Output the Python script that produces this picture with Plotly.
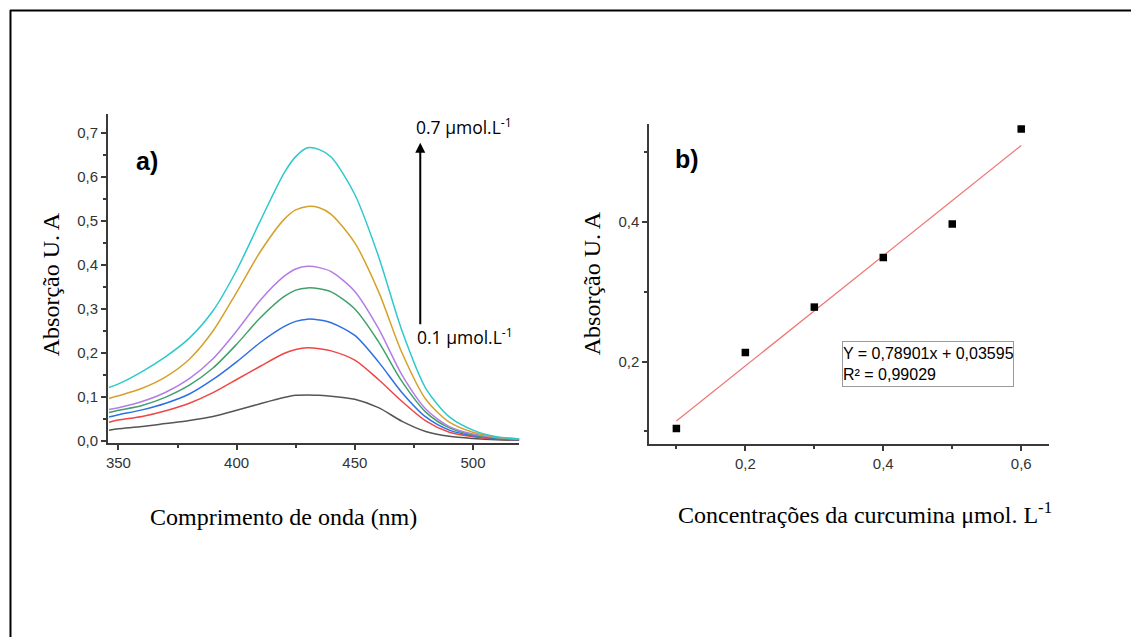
import plotly.graph_objects as go

W, H = 1131, 643

# ---------------- data: panel a) spectra ----------------
wavelength = [346, 350, 360, 370, 380, 390, 400, 410, 420, 425, 430, 435, 440, 450, 460, 470, 480, 490, 500, 510, 520]
abs_01 = [0.025, 0.028, 0.033, 0.040, 0.047, 0.056, 0.070, 0.085, 0.099, 0.104, 0.105, 0.104, 0.102, 0.095, 0.076, 0.045, 0.022, 0.011, 0.006, 0.003, 0.002]
abs_02 = [0.043, 0.048, 0.056, 0.069, 0.086, 0.110, 0.140, 0.170, 0.199, 0.208, 0.212, 0.210, 0.205, 0.184, 0.140, 0.090, 0.046, 0.020, 0.010, 0.005, 0.003]
abs_03 = [0.055, 0.060, 0.071, 0.086, 0.107, 0.140, 0.180, 0.224, 0.260, 0.272, 0.277, 0.275, 0.269, 0.240, 0.180, 0.110, 0.055, 0.025, 0.012, 0.006, 0.003]
abs_04 = [0.065, 0.070, 0.081, 0.100, 0.127, 0.166, 0.220, 0.280, 0.328, 0.343, 0.348, 0.346, 0.339, 0.300, 0.226, 0.135, 0.066, 0.030, 0.014, 0.007, 0.004]
abs_05 = [0.072, 0.076, 0.090, 0.111, 0.142, 0.187, 0.250, 0.320, 0.374, 0.391, 0.397, 0.394, 0.385, 0.340, 0.256, 0.150, 0.073, 0.033, 0.016, 0.008, 0.004]
abs_06 = [0.097, 0.103, 0.120, 0.146, 0.186, 0.250, 0.338, 0.430, 0.503, 0.525, 0.533, 0.530, 0.515, 0.450, 0.340, 0.200, 0.095, 0.043, 0.020, 0.009, 0.005]
abs_07 = [0.122, 0.130, 0.158, 0.192, 0.234, 0.296, 0.388, 0.500, 0.608, 0.646, 0.666, 0.662, 0.645, 0.560, 0.420, 0.250, 0.120, 0.055, 0.025, 0.010, 0.005]
spectra = [abs_01, abs_02, abs_03, abs_04, abs_05, abs_06, abs_07]
spec_colors = ["#555555", "#f04646", "#2f6fe6", "#3fa26a", "#b27ee6", "#d4a22a", "#2ec9cc"]

# ---------------- data: panel b) calibration ----------------
conc = [0.1, 0.2, 0.3, 0.4, 0.5, 0.6]
absorb = [0.104, 0.213, 0.278, 0.349, 0.397, 0.533]
slope, intercept = 0.78901, 0.03595
fit_x = [0.1, 0.6]
fit_y = [slope * x + intercept for x in fit_x]

fig = go.Figure()

for ys, c in zip(spectra, spec_colors):
    fig.add_trace(go.Scatter(x=wavelength, y=ys, mode="lines",
                             line=dict(color=c, width=1.5, shape="spline", smoothing=0.8),
                             xaxis="x", yaxis="y", showlegend=False, hoverinfo="skip"))

fig.add_trace(go.Scatter(x=fit_x, y=fit_y, mode="lines",
                         line=dict(color="#f07474", width=1.2),
                         xaxis="x2", yaxis="y2", showlegend=False))
fig.add_trace(go.Scatter(x=conc, y=absorb, mode="markers",
                         marker=dict(symbol="square", size=7.5, color="black"),
                         xaxis="x2", yaxis="y2", showlegend=False))

def px_x(p):
    return p / W

def px_y(p):
    return 1 - p / H

tickfont = dict(family="Liberation Sans, Arial", size=15, color="#333333")
axis_common = dict(showline=True, linecolor="#3a3a3a", linewidth=1.5, ticks="outside",
                   ticklen=5, tickwidth=1.5, tickcolor="#3a3a3a", showgrid=False,
                   zeroline=False, tickfont=tickfont)

fig.update_layout(
    width=W, height=H, margin=dict(l=0, r=0, t=0, b=0),
    paper_bgcolor="white", plot_bgcolor="white", separators=",.",
    xaxis=dict(domain=[px_x(106), px_x(518)], range=[345.5, 519.5], anchor="y",
               tickvals=[350, 400, 450, 500], ticktext=["350", "400", "450", "500"],
               minor=dict(tickvals=[375, 425, 475], ticks="outside", ticklen=3, tickcolor="#3a3a3a"),
               **axis_common),
    yaxis=dict(domain=[px_y(447.3), px_y(115)], range=[-0.0045, 0.743], anchor="x",
               tickvals=[0, 0.1, 0.2, 0.3, 0.4, 0.5, 0.6, 0.7], tickformat=".1f",
               minor=dict(dtick=0.05, tick0=0.05, ticks="outside", ticklen=3, tickcolor="#3a3a3a"),
               **axis_common),
    xaxis2=dict(domain=[px_x(648.3), px_x(1049)], range=[0.0605, 0.6405], anchor="y2",
                tickvals=[0.2, 0.4, 0.6], tickformat=".1f",
                minor=dict(tickvals=[0.1, 0.3, 0.5], ticks="outside", ticklen=3, tickcolor="#3a3a3a"),
                **axis_common),
    yaxis2=dict(domain=[px_y(448.3), px_y(125)], range=[0.0818, 0.5404], anchor="x2",
                tickvals=[0.2, 0.4], tickformat=".1f",
                minor=dict(tickvals=[0.1, 0.3, 0.5], ticks="outside", ticklen=3, tickcolor="#3a3a3a"),
                **axis_common),
)

serif = dict(family="Liberation Serif, Times New Roman", size=24, color="black")
anns = [
    dict(x=px_x(49), y=px_y(287), text="Absorção U. A", textangle=-90, font=serif),
    dict(x=px_x(591), y=px_y(286), text="Absorção U. A", textangle=-90, font=serif),
    dict(x=px_x(282), y=px_y(522), text="Comprimento de onda (nm)", font=serif),
    dict(x=px_x(865), y=px_y(518), text="Concentrações da curcumina μmol. L<sup>-1</sup>", font=serif),
    dict(x=px_x(132), y=px_y(163), text="<b>a)</b>", xanchor="left",
         font=dict(family="Liberation Sans, Arial", size=25, color="black")),
    dict(x=px_x(672), y=px_y(161), text="<b>b)</b>", xanchor="left",
         font=dict(family="Liberation Sans, Arial", size=25, color="black")),
    dict(x=px_x(413), y=px_y(128), text="0.7 μmol.L<sup>-1</sup>", xanchor="left",
         font=dict(family="Open Sans", size=17.5, color="black")),
    dict(x=px_x(414), y=px_y(340), text="0.1 μmol.L<sup>-1</sup>", xanchor="left",
         font=dict(family="Open Sans", size=17.5, color="black")),
    dict(x=px_x(841), y=px_y(344.5), xanchor="left", yanchor="top", align="left", valign="middle",
         width=170, height=44,
         text="Y = 0,78901x + 0,03595<br>R² = 0,99029",
         font=dict(family="Liberation Sans, Arial", size=16, color="black"),
         bordercolor="#9a9a9a", borderwidth=1, borderpad=0, bgcolor="white"),
    dict(x=px_x(419), y=px_y(144), ax=0, ay=183, text="", showarrow=True,
         arrowhead=2, arrowsize=1, arrowwidth=2, arrowcolor="black"),
]
for a in anns:
    a.setdefault("xref", "paper")
    a.setdefault("yref", "paper")
    a.setdefault("xanchor", "center")
    a.setdefault("yanchor", "middle")
    a.setdefault("showarrow", False)
    if a.get("showarrow"):
        a["axref"] = "pixel"
        a["ayref"] = "pixel"
    fig.add_annotation(**a)

# document frame
fig.add_shape(type="line", xref="paper", yref="paper", x0=px_x(8), x1=1.0, y0=px_y(10.5), y1=px_y(10.5),
              line=dict(color="black", width=2))
fig.add_shape(type="line", xref="paper", yref="paper", x0=px_x(8.5), x1=px_x(8.5), y0=0, y1=px_y(10),
              line=dict(color="black", width=2))

fig.write_html("out.html", config={"displayModeBar": False},
               post_script="document.body.style.margin='0';document.body.style.overflow='hidden';")
